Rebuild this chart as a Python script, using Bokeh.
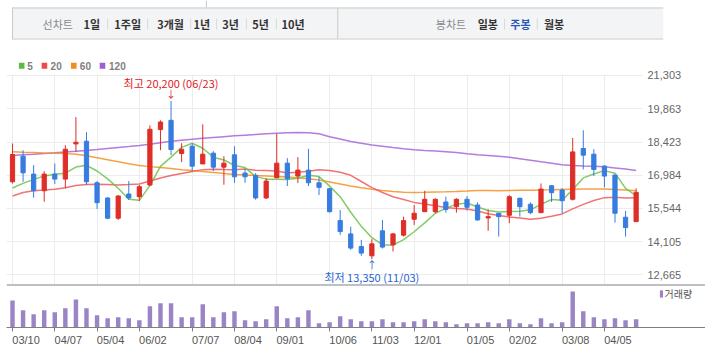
from bokeh.plotting import figure
from bokeh.models import (Range1d, FixedTicker, NumeralTickFormatter, Grid, Span,
                          Legend, LegendItem, ColumnDataSource)
from bokeh.layouts import column
from bokeh.core.properties import value
from bokeh.embed import file_html
from bokeh.resources import INLINE

# ---------------- data (weekly candles) ----------------
tick_idx = [0, 4, 8, 12, 17, 21, 25, 30, 34, 38, 43, 47, 52, 56]
tick_labels = ["03/10", "04/07", "05/04", "06/02", "07/07", "08/04", "09/01",
               "10/06", "11/03", "12/01", "01/05", "02/02", "03/08", "04/05"]
price_ticks = [12665, 14105, 15544, 16984, 18423, 19863, 21303]

opens = [16701, 17809, 17033, 16313, 17033, 16817, 18340, 18456, 16658, 15998,
         15123, 16171, 16054, 16559, 18961, 19362, 17926, 18241, 17474, 17939,
         17335, 17868, 17077, 16977, 16000, 16874, 17508, 16947, 17206, 16658,
         16399, 15019, 14445, 13898, 13496, 14575, 13971, 14389, 15079, 15407,
         15407, 15826, 15623, 15942, 15696, 15135, 15338, 15251, 15985, 15726,
         15364, 16529, 16343, 15942, 18141, 17896, 17378, 16990, 15165, 14976]
highs = [18357, 18068, 17421, 17163, 17495, 18284, 19504, 18845, 16731, 16041,
         16127, 16731, 16559, 19147, 19362, 20200, 18370, 18357, 19190, 18025,
         17809, 18241, 17264, 17077, 16860, 18773, 17724, 17767, 18126, 16917,
         16420, 15480, 14760, 14186, 14216, 15049, 14488, 15191, 15696, 16313,
         15985, 16054, 15985, 16084, 15813, 15510, 15338, 16127, 16020, 15813,
         16631, 16559, 16430, 18599, 18931, 18111, 17421, 17033, 15437, 16416]
lows = [16631, 16701, 16011, 15839, 16602, 16416, 17995, 16559, 15524, 15079,
        15049, 15912, 15869, 16516, 18068, 17853, 17552, 17163, 17474, 17163,
        16573, 16658, 16658, 15926, 15955, 16860, 16516, 16645, 16516, 16128,
        15364, 14402, 13755, 13496, 13350, 13812, 13682, 14330, 14833, 15407,
        15338, 15364, 15364, 15450, 15019, 14575, 14330, 14907, 15191, 15295,
        15364, 15826, 15338, 15890, 17236, 16947, 16459, 14933, 14330, 14976]
closes = [17883, 17089, 16313, 17033, 16817, 18111, 18413, 16701, 15796, 15123,
          16084, 15998, 16486, 18974, 19289, 18098, 18111, 17378, 17896, 17335,
          17508, 16917, 16917, 16000, 16731, 17508, 16830, 17206, 16658, 16459,
          15407, 14545, 13829, 13613, 14014, 13872, 14445, 15019, 15338, 15942,
          15942, 15501, 15942, 15597, 15049, 15191, 15191, 16054, 15623, 15364,
          16386, 16227, 15882, 17995, 17853, 17236, 16947, 15338, 14717, 16244]
volume = [82, 52, 40, 52, 46, 58, 85, 58, 37, 28,
          31, 28, 22, 64, 73, 73, 31, 31, 70, 31,
          46, 49, 22, 19, 25, 64, 28, 31, 52, 13,
          16, 34, 25, 19, 19, 25, 16, 16, 19, 25,
          19, 16, 10, 13, 13, 16, 13, 25, 13, 10,
          28, 13, 16, 109, 49, 31, 25, 28, 22, 25]
ma5 = [16430, 16631, 16804, 16947, 17027, 17073, 17337, 17415, 17168, 16829,
       16423, 15940, 15897, 16533, 17366, 17769, 18192, 18370, 18154, 17764,
       17646, 17407, 17315, 16935, 16815, 16815, 16797, 16855, 16987, 16932,
       16512, 16055, 15380, 14771, 14282, 13975, 13955, 14193, 14538, 14923,
       15337, 15548, 15733, 15785, 15606, 15456, 15394, 15416, 15422, 15485,
       15724, 15931, 15896, 16371, 16869, 17039, 17183, 17074, 16418, 16096]
ma20 = [16084, 16236, 16313, 16343, 16374, 16442, 16537, 16580, 16589, 16580,
        16559, 16580, 16602, 16731, 16861, 16969, 17064, 17141, 17227, 17246,
        17228, 17219, 17249, 17198, 17193, 17163, 17084, 17109, 17152, 17219,
        17185, 17113, 16980, 16712, 16448, 16237, 16053, 15935, 15808, 15738,
        15660, 15589, 15540, 15520, 15436, 15320, 15238, 15180, 15129, 15074,
        15123, 15207, 15310, 15529, 15721, 15889, 16014, 16030, 15999, 16014]
ma60 = [18004, 17982, 17969, 17952, 17939, 17926, 17896, 17831, 17745, 17659,
        17572, 17486, 17409, 17357, 17322, 17271, 17219, 17184, 17150, 17107,
        17064, 17020, 16990, 16969, 16947, 16926, 16904, 16870, 16831, 16775,
        16688, 16602, 16516, 16438, 16374, 16322, 16279, 16244, 16236, 16244,
        16257, 16266, 16279, 16300, 16322, 16322, 16313, 16322, 16330, 16335,
        16343, 16352, 16365, 16378, 16386, 16386, 16386, 16365, 16343, 16313]
ma120 = [17840, 17866, 17892, 17922, 17956, 17991, 18025, 18060, 18099, 18142,
         18185, 18228, 18276, 18327, 18392, 18457, 18500, 18543, 18586, 18621,
         18655, 18690, 18720, 18750, 18780, 18802, 18823, 18832, 18828, 18780,
         18651, 18552, 18444, 18370, 18297, 18241, 18185, 18133, 18090, 18060,
         18034, 18004, 17969, 17918, 17870, 17840, 17810, 17767, 17702, 17637,
         17572, 17508, 17443, 17409, 17387, 17370, 17348, 17301, 17249, 17193]
ma_names = ["5", "20", "60", "120"]
hi_date, lo_date = "06/23", "11/03"

# ---------------- styles ----------------
RED, BLUE = "#df2d27", "#377cdf"
MA_COLORS = ["#6cc24a", "#ef5b5b", "#f39226", "#a466d6"]
LEG_COLORS = ["#5dba45", "#ec4b4b", "#f28c20", "#9d5fd2"]
VOL_COLOR = "#9b84c6"
GRID = "#ececec"
KR = "Noto Sans CJK KR"
NUM = "Liberation Sans"
LABEL_SHIFT = 1.28   # date labels start at their tick (half a label width, in weeks)

n = len(closes)
xs = list(range(n))
colors = [RED if c >= o else BLUE for o, c in zip(opens, closes)]
src = ColumnDataSource(dict(
    x=xs, o=opens, h=highs, l=lows, c=closes,
    top=[max(o, c) for o, c in zip(opens, closes)],
    bot=[min(o, c) for o, c in zip(opens, closes)],
    color=colors, vol=volume))

# ---------------- header (tabs + MA legend) ----------------
hdr = figure(width=705, height=74, x_range=Range1d(0, 705), y_range=Range1d(74, 0),
             output_backend="svg", toolbar_location=None, x_axis_location=None,
             y_axis_location=None, min_border=0, outline_line_color=None)
hdr.grid.grid_line_color = None
hdr.quad(left=[6], right=[705], top=[7], bottom=[38], fill_color="#f3f4f6", line_color=None)
hdr.segment(x0=[6, 6, 6.5, 355.5, 214.5], y0=[7.5, 38.5, 7, 7, 0],
            x1=[705, 705, 6.5, 355.5, 214.5], y1=[7.5, 38.5, 38, 38, 7],
            line_color="#c9c9c9", line_width=1)
sep_x = [108.5, 151.5, 197.5, 225.5, 257.5, 289.5, 534.5, 569.5]
hdr.segment(x0=sep_x, y0=[18] * len(sep_x), x1=sep_x, y1=[29] * len(sep_x),
            line_color="#d8d8d8", line_width=1)
hdr.text(x=[55, 477], y=[23, 23], text=["선차트", "봉차트"], text_font=value(KR),
         text_font_size="11px", text_color="#8a8a8a", text_align="center",
         text_baseline="middle")
hdr.text(x=[91.5, 130, 176, 209.5, 240.5, 272.5, 307.5, 516.5, 587.5], y=[23] * 9,
         text=["1일", "1주일", "3개월", "1년", "3년", "5년", "10년", "일봉", "월봉"],
         text_font=value(KR), text_font_size="11px", text_font_style="bold",
         text_color="#333333", text_align="center", text_baseline="middle")
hdr.text(x=[551.5], y=[23], text=["주봉"], text_font=value(KR), text_font_size="11px",
         text_font_style="bold", text_color="#2b56b5", text_align="center",
         text_baseline="middle")
sq_left = [13.3, 37.7, 69.2, 100]
hdr.quad(left=sq_left, right=[v + 6 for v in sq_left], top=[62.3] * 4, bottom=[68.3] * 4,
         fill_color=LEG_COLORS, line_color=None)
hdr.text(x=[22.3, 47.3, 78.7, 110], y=[65.5] * 4, text=ma_names, text_font=value(NUM),
         text_font_size="10px", text_font_style="bold", text_color="#808080",
         text_align="left", text_baseline="middle")

# ---------------- price panel ----------------
price = figure(frame_width=636, frame_height=210,
               x_range=Range1d(-0.5676, 59.603), y_range=Range1d(12253, 21346),
               output_backend="svg", toolbar_location=None, x_axis_location=None,
               y_axis_location="right", min_border_left=6, min_border_right=0,
               min_border_top=10, min_border_bottom=0, border_fill_alpha=0,
               outline_line_color=None, margin=(-10, 0, 0, 0))
price.grid.grid_line_color = None
price.add_layout(Grid(dimension=0, ticker=FixedTicker(ticks=tick_idx), grid_line_color=GRID))
price.add_layout(Grid(dimension=1, ticker=FixedTicker(ticks=price_ticks), grid_line_color=GRID))
ya = price.yaxis[0]
ya.ticker = FixedTicker(ticks=price_ticks)
ya.formatter = NumeralTickFormatter(format="0,0")
ya.axis_line_color = None
ya.major_tick_line_color = None
ya.minor_tick_line_color = None
ya.major_tick_out = 0
ya.major_label_standoff = 5
ya.major_label_text_font = NUM
ya.major_label_text_font_size = "11px"
ya.major_label_text_color = "#666666"

for ma, col in zip([ma120, ma60, ma20, ma5], MA_COLORS[::-1]):
    price.line(xs, ma, line_color=col, line_width=1.5, line_alpha=0.85)

price.segment(x0="x", y0="l", x1="x", y1="h", line_color="color", line_width=1, source=src)
price.vbar(x="x", width=0.4, top="top", bottom="bot", fill_color="color",
           line_color="color", line_width=1, source=src)

imax = highs.index(max(highs))
imin = lows.index(min(lows))
price.text(x=[imax], y=[highs[imax]], text=["↓"], y_offset=-7, text_font=value(KR),
           text_font_size="10px", text_color="#e0201c", text_align="center",
           text_baseline="middle")
price.text(x=[imax], y=[highs[imax]], text=[f"최고 {highs[imax]:,} ({hi_date})"],
           y_offset=-18, text_font=value(KR), text_font_size="11px",
           text_color="#e0201c", text_align="center", text_baseline="middle")
price.text(x=[imin], y=[lows[imin]], text=["↑"], y_offset=5, text_font=value(KR),
           text_font_size="10px", text_color="#1f66cc", text_align="center",
           text_baseline="middle")
price.text(x=[imin], y=[lows[imin]], text=[f"최저 {lows[imin]:,} ({lo_date})"],
           y_offset=18, text_font=value(KR), text_font_size="11px",
           text_color="#1f66cc", text_align="center", text_baseline="middle")

# ---------------- volume panel ----------------
vol = figure(frame_width=699, frame_height=43,
             x_range=Range1d(-0.5676, 65.563), y_range=Range1d(0, 130),
             output_backend="svg", toolbar_location=None, y_axis_location=None,
             min_border_left=6, min_border_right=0, min_border_top=0,
             min_border_bottom=21, outline_line_color=None)
vol.grid.grid_line_color = None
vol.add_layout(Span(location=130, dimension="width", line_color="#7c838b", line_width=2))
vr = vol.vbar(x="x", top="vol", width=0.42, fill_color=VOL_COLOR, line_color=None, source=src)

# one axis: tick marks at the week positions (as minor ticks), date labels that
# start at their tick (major ticks, invisible marks)
lab_pos = [round(t + LABEL_SHIFT, 2) for t in tick_idx]
xa = vol.xaxis[0]
xa.ticker = FixedTicker(ticks=lab_pos, minor_ticks=tick_idx)
xa.major_label_overrides = {p: lab for p, lab in zip(lab_pos, tick_labels)}
xa.axis_line_color = "#7f7f7f"
xa.major_tick_line_color = None
xa.major_tick_out = 4
xa.major_tick_in = 0
xa.minor_tick_line_color = "#7f7f7f"
xa.minor_tick_out = 4
xa.minor_tick_in = 0
xa.major_label_standoff = 2
xa.major_label_text_font = NUM
xa.major_label_text_font_size = "11px"
xa.major_label_text_color = "#555555"

leg = Legend(items=[LegendItem(label="거래량", renderers=[vr])], location=(652.5, 26),
             glyph_width=4, glyph_height=9, label_height=9, label_standoff=2,
             padding=0, margin=0, spacing=0, border_line_color=None,
             background_fill_alpha=0, label_text_font=KR, label_text_font_size="10px",
             label_text_color="#555555")
vol.add_layout(leg)

root = column(hdr, price, vol, spacing=0)
open("out.html", "w").write(file_html(root, INLINE))
